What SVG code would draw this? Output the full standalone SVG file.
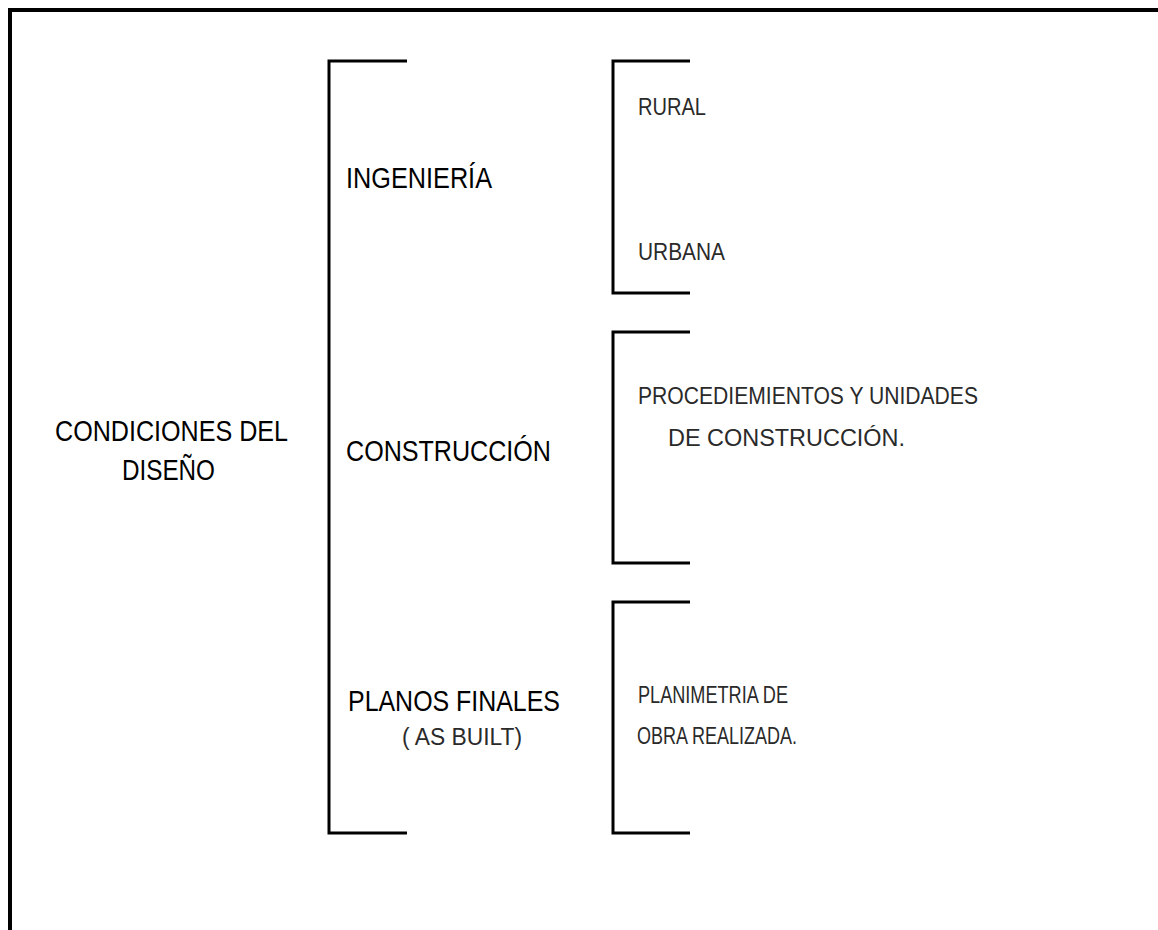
<svg xmlns="http://www.w3.org/2000/svg" width="1158" height="930" viewBox="0 0 1158 930">
<style>
.main{font-family:"Liberation Sans",Arial,sans-serif;fill:#000;font-size:30px}
.sub{font-family:"Liberation Sans",Arial,sans-serif;fill:#2a2a2a;font-size:23px}
.br{fill:none;stroke:#000;stroke-width:3}
.frame{fill:none;stroke:#000;stroke-width:4}
</style>
<rect width="1158" height="930" fill="#fff"/>
<path class="frame" d="M10 930 V10 H1158"/>
<g id="connectors">
<path class="br" d="M407 61 H329 V833 H407"/>
<path class="br" d="M690 61 H613 V293 H690"/>
<path class="br" d="M690 332 H613 V563 H690"/>
<path class="br" d="M690 602 H613 V833 H690"/>
</g>
<g id="root">
<text class="main" x="55" y="441" textLength="233" lengthAdjust="spacingAndGlyphs">CONDICIONES DEL</text>
<text class="main" x="122" y="480" textLength="93" lengthAdjust="spacingAndGlyphs">DISEÑO</text>
</g>
<g id="ingenieria">
<text class="main" x="346" y="188" textLength="146" lengthAdjust="spacingAndGlyphs">INGENIERÍA</text>
</g>
<g id="construccion">
<text class="main" x="346" y="461" textLength="205" lengthAdjust="spacingAndGlyphs">CONSTRUCCIÓN</text>
</g>
<g id="planos">
<text class="main" x="348" y="711" font-size="28" textLength="212" lengthAdjust="spacingAndGlyphs">PLANOS FINALES</text>
<text class="sub" x="402" y="745" textLength="120" lengthAdjust="spacingAndGlyphs">( AS BUILT)</text>
</g>
<g id="rural">
<text class="sub" x="638" y="115" textLength="68" lengthAdjust="spacingAndGlyphs">RURAL</text>
</g>
<g id="urbana">
<text class="sub" x="638" y="260" textLength="87" lengthAdjust="spacingAndGlyphs">URBANA</text>
</g>
<g id="procedimientos">
<text class="sub" x="638" y="404" textLength="340" lengthAdjust="spacingAndGlyphs">PROCEDIEMIENTOS Y UNIDADES</text>
<text class="sub" x="668" y="446" textLength="237" lengthAdjust="spacingAndGlyphs">DE CONSTRUCCIÓN.</text>
</g>
<g id="planimetria">
<text class="sub" x="638" y="703" textLength="150" lengthAdjust="spacingAndGlyphs">PLANIMETRIA DE</text>
<text class="sub" x="637" y="744" textLength="160" lengthAdjust="spacingAndGlyphs">OBRA REALIZADA.</text>
</g>
</svg>
